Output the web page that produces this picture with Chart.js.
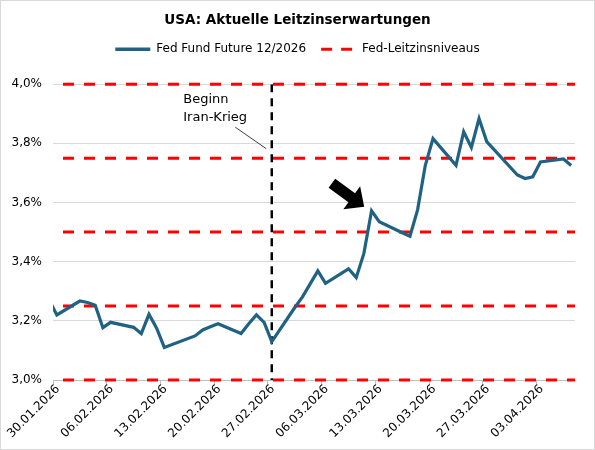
<!DOCTYPE html>
<html>
<head>
<meta charset="utf-8">
<script src="https://cdn.jsdelivr.net/npm/chart.js@4.4.1/dist/chart.umd.min.js"></script>
<style>
  html, body { margin: 0; padding: 0; background: #fff; }
</style>
</head>
<body>
<canvas id="myChart" width="595" height="450"></canvas>
<script>
// Daten: Handelstage und Fed Fund Future 12/2026 (in %)
var dates = ['29.01.2026', '30.01.2026',
  '02.02.2026', '03.02.2026', '04.02.2026', '05.02.2026', '06.02.2026',
  '09.02.2026', '10.02.2026', '11.02.2026', '12.02.2026', '13.02.2026',
  '17.02.2026', '18.02.2026', '19.02.2026', '20.02.2026',
  '23.02.2026', '24.02.2026', '25.02.2026', '26.02.2026', '27.02.2026',
  '02.03.2026', '03.03.2026', '04.03.2026', '05.03.2026', '06.03.2026',
  '09.03.2026', '10.03.2026', '11.03.2026', '12.03.2026', '13.03.2026',
  '16.03.2026', '17.03.2026', '18.03.2026', '19.03.2026', '20.03.2026',
  '23.03.2026', '24.03.2026', '25.03.2026', '26.03.2026', '27.03.2026',
  '31.03.2026', '01.04.2026', '02.04.2026', '03.04.2026',
  '06.04.2026', '07.04.2026'];
var futures = [3.27, 3.22,
  3.267, 3.262, 3.253, 3.177, 3.195,
  3.178, 3.157, 3.222, 3.175, 3.11,
  3.149, 3.169, 3.18, 3.19,
  3.157, 3.19, 3.22, 3.195, 3.13,
  3.245, 3.281, 3.325, 3.369, 3.327,
  3.376, 3.346, 3.428, 3.572, 3.535,
  3.498, 3.486, 3.576, 3.726, 3.816,
  3.726, 3.839, 3.786, 3.884, 3.806,
  3.693, 3.681, 3.687, 3.737,
  3.747, 3.725];
var tickLabels = ['30.01.2026', '06.02.2026', '13.02.2026', '20.02.2026', '27.02.2026',
  '06.03.2026', '13.03.2026', '20.03.2026', '27.03.2026', '03.04.2026'];
var levels = [3.0, 3.25, 3.5, 3.75, 4.0];
var warStart = '27.02.2026';
var arrowAt = '12.03.2026';

var blue = '#1f6283';
var red = '#ff0000';

// Tage seit dem ersten Achsenlabel; +0.5 = Punkt mittig zwischen den Teilstrichen
function dayPos(s) {
  var p = s.split('.');
  var p0 = tickLabels[0].split('.');
  var t = Date.UTC(+p[2], +p[1] - 1, +p[0]);
  var t0 = Date.UTC(+p0[2], +p0[1] - 1, +p0[0]);
  return (t - t0) / 86400000 + 0.5;
}

var xMax = dayPos(dates[dates.length - 1]) + 0.5;

var datasets = [{
  label: 'Fed Fund Future 12/2026',
  data: dates.map(function (d, i) { return { x: dayPos(d), y: futures[i] }; }),
  borderColor: blue,
  borderWidth: 3.2,
  pointRadius: 0,
  tension: 0
}, {
  label: 'Beginn Iran-Krieg',
  data: [{ x: dayPos(warStart), y: 4.0 }, { x: dayPos(warStart), y: 3.0 }],
  borderColor: '#000',
  borderWidth: 2.5,
  borderDash: [8, 6],
  pointRadius: 0
}];
levels.forEach(function (l) {
  datasets.push({
    label: 'Fed-Leitzinsniveaus',
    data: [{ x: 0, y: l }, { x: xMax, y: l }],
    borderColor: red,
    borderWidth: 3,
    borderDash: [11, 10],
    borderDashOffset: 11,
    borderCapStyle: 'butt',
    pointRadius: 0,
    clip: 3
  });
});

var extras = {
  id: 'extras',
  beforeDraw: function (chart) {
    var c = chart.ctx;
    c.save();
    c.fillStyle = '#fff';
    c.fillRect(0, 0, chart.width, chart.height);
    c.restore();
  },
  afterDatasetsDraw: function (chart) {
    var c = chart.ctx;
    var xs = chart.scales.x, ys = chart.scales.y;
    var lx = xs.getPixelForValue(dayPos(warStart));
    var top = ys.getPixelForValue(4.0);
    c.save();
    // Beschriftung
    c.fillStyle = '#000';
    c.font = '13px "DejaVu Sans"';
    c.textAlign = 'left';
    c.textBaseline = 'alphabetic';
    c.fillText('Beginn', lx - 88.5, top + 19);
    c.fillText('Iran-Krieg', lx - 88.5, top + 37);
    // Hinweislinie
    c.strokeStyle = '#404040';
    c.lineWidth = 1;
    c.beginPath();
    c.moveTo(lx - 36.5, top + 43);
    c.lineTo(lx - 5.5, top + 64.5);
    c.stroke();
    // Pfeil
    var i = dates.indexOf(arrowAt);
    var tx = xs.getPixelForValue(dayPos(arrowAt)) - 7.4;
    var ty = ys.getPixelForValue(futures[i]) - 4;
    var ux = 0.807, uy = 0.591, nx = -0.591, ny = 0.807;
    var bx = tx - 15.4 * ux, by = ty - 15.4 * uy;
    var cx = tx - 40 * ux, cy = ty - 40 * uy;
    c.fillStyle = '#000';
    c.beginPath();
    c.moveTo(tx, ty);
    c.lineTo(bx + 14.2 * nx, by + 14.2 * ny);
    c.lineTo(bx + 5.6 * nx, by + 5.6 * ny);
    c.lineTo(cx + 5.6 * nx, cy + 5.6 * ny);
    c.lineTo(cx - 5.6 * nx, cy - 5.6 * ny);
    c.lineTo(bx - 5.6 * nx, by - 5.6 * ny);
    c.lineTo(bx - 14.2 * nx, by - 14.2 * ny);
    c.closePath();
    c.fill();
    c.restore();
  },
  afterDraw: function (chart) {
    var c = chart.ctx;
    c.save();
    c.strokeStyle = '#d9d9d9';
    c.lineWidth = 1;
    c.strokeRect(0.5, 0.5, chart.width - 1, chart.height - 1);
    c.restore();
  }
};

Chart.defaults.font.family = '"DejaVu Sans", sans-serif';
Chart.defaults.color = '#000';

var ctx = document.getElementById('myChart');
var myChart = new Chart(ctx, {
  type: 'line',
  data: { datasets: datasets },
  plugins: [extras],
  options: {
    responsive: false,
    animation: false,
    layout: { padding: 0 },
    plugins: {
      title: {
        display: true,
        text: 'USA: Aktuelle Leitzinserwartungen',
        font: { size: 13.5, weight: 'bold' },
        color: '#000',
        padding: { top: 12, bottom: 0 }
      },
      legend: {
        display: true,
        position: 'top',
        labels: {
          usePointStyle: true,
          pointStyleWidth: 35,
          padding: 15,
          font: { size: 12 },
          color: '#000',
          generateLabels: function () {
            return [
              { text: 'Fed Fund Future 12/2026', strokeStyle: blue, fillStyle: blue, lineWidth: 3.5,
                lineDash: [], pointStyle: 'line', datasetIndex: 0, fontColor: '#000' },
              { text: 'Fed-Leitzinsniveaus', strokeStyle: red, fillStyle: red, lineWidth: 3,
                lineDash: [11, 9], pointStyle: 'line', datasetIndex: 2, fontColor: '#000' }
            ];
          }
        }
      },
      subtitle: {
        display: true,
        text: '',
        weight: 500,
        font: { size: 19, lineHeight: 1 },
        padding: 0
      },
      tooltip: { enabled: false }
    },
    scales: {
      x: {
        type: 'linear',
        min: 0,
        max: xMax,
        afterBuildTicks: function (scale) {
          scale.ticks = tickLabels.map(function (l) { return { value: dayPos(l) - 0.5 }; });
        },
        afterFit: function (scale) { scale.height = 70; },
        ticks: {
          autoSkip: false,
          minRotation: 45,
          maxRotation: 45,
          padding: -3,
          labelOffset: 5,
          font: { size: 12 },
          color: '#000',
          callback: function (v, i) { return tickLabels[i]; }
        },
        grid: {
          drawOnChartArea: false,
          drawTicks: true,
          tickLength: 5,
          color: '#bfbfbf'
        },
        border: { display: true, color: '#bfbfbf' }
      },
      y: {
        min: 3.0,
        max: 4.0,
        afterFit: function (scale) { scale.width = 53; },
        ticks: {
          stepSize: 0.2,
          padding: 11,
          font: { size: 12 },
          color: '#000',
          callback: function (v) { return v.toFixed(1).replace('.', ',') + '%'; }
        },
        grid: { color: '#d9d9d9', drawTicks: false },
        border: { display: false }
      },
      // leerer Rand rechts, damit Titel und Legende zentriert bleiben
      yRight: {
        position: 'right',
        display: true,
        afterFit: function (scale) { scale.width = 20; },
        ticks: { display: false },
        grid: { display: false },
        border: { display: false }
      }
    }
  }
});
</script>
</body>
</html>
